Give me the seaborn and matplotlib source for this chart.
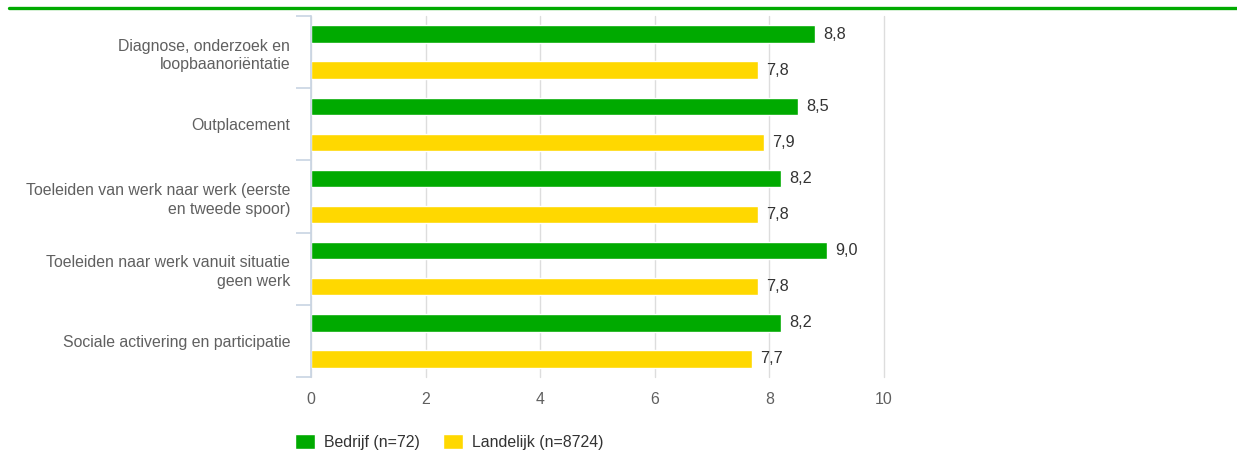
import matplotlib
matplotlib.use("Agg")
import matplotlib.pyplot as plt
import seaborn as sns
import pandas as pd
from matplotlib.lines import Line2D

categories = [
    "Diagnose, onderzoek en\nloopbaanoriëntatie",
    "Outplacement",
    "Toeleiden van werk naar werk (eerste\nen tweede spoor)",
    "Toeleiden naar werk vanuit situatie\ngeen werk",
    "Sociale activering en participatie",
]
series_names = ["Bedrijf (n=72)", "Landelijk (n=8724)"]
bedrijf = [8.8, 8.5, 8.2, 9.0, 8.2]
landelijk = [7.8, 7.9, 7.8, 7.8, 7.7]
x_ticks = [0, 2, 4, 6, 8, 10]
colors = ["#00AA00", "#FFD800"]

df = pd.DataFrame({
    "categorie": categories * 2,
    "reeks": [series_names[0]] * len(categories) + [series_names[1]] * len(categories),
    "waarde": bedrijf + landelijk,
})

sns.set_style("white")
plt.rcParams["font.family"] = ["Liberation Sans", "DejaVu Sans"]

FS = 11.4

fig = plt.figure(figsize=(12.37, 4.65), dpi=100)
ax = fig.add_axes([311 / 1237, 1 - 377 / 465, (884 - 311) / 1237, (377 - 16) / 465])

sns.barplot(data=df, y="categorie", x="waarde", hue="reeks", orient="h",
            palette=colors, width=1.0, gap=0.52, ax=ax, saturation=1,
            order=categories, hue_order=series_names, errorbar=None)

ax.set_xlim(0, 10)
ax.set_ylim(len(categories) - 0.5, -0.5)
ax.set_xticks(x_ticks)
ax.set_xticklabels([str(t) for t in x_ticks])
ax.set_xlabel("")
ax.set_ylabel("")

for s in ["top", "right", "bottom"]:
    ax.spines[s].set_visible(False)
ax.spines["left"].set_color("#C8D4E3")
ax.spines["left"].set_linewidth(1.2)

ax.grid(axis="x", color="#DDDDDD", linewidth=1)
for gl in ax.get_xgridlines():
    gl.set_clip_on(False)
ax.set_axisbelow(True)

ax.tick_params(axis="x", length=0, pad=11, labelsize=FS, labelcolor="#606060")
ax.tick_params(axis="y", which="major", left=True, length=0, pad=15, labelsize=FS,
               labelcolor="#606060")
ax.set_yticks([i - 0.5 for i in range(len(categories) + 1)], minor=True)
ax.tick_params(axis="y", which="minor", left=True, length=10.5, color="#C8D4E3", width=1.2)
for lbl in ax.get_yticklabels():
    lbl.set_multialignment("right")
    lbl.set_linespacing(1.3)

for cont in ax.containers:
    labels = [f"{b.get_width():.1f}".replace(".", ",") for b in cont]
    ax.bar_label(cont, labels=labels, padding=6, fontsize=FS + 0.3, color="#333333")

handles, labs = ax.get_legend_handles_labels()
ax.legend(handles, labs, loc="center left", bbox_to_anchor=(281 / 1237, 1 - 442 / 465),
          bbox_transform=fig.transFigure, ncol=2, frameon=False, fontsize=FS,
          handlelength=1.25, handleheight=1.1, handletextpad=0.55, columnspacing=1.5,
          labelcolor="#333333")

fig.add_artist(Line2D([9 / 1237, 1.0], [1 - 8 / 465, 1 - 8 / 465],
                      transform=fig.transFigure, color="#00AA00", linewidth=2.4))

fig.savefig("out.png", dpi=100)
